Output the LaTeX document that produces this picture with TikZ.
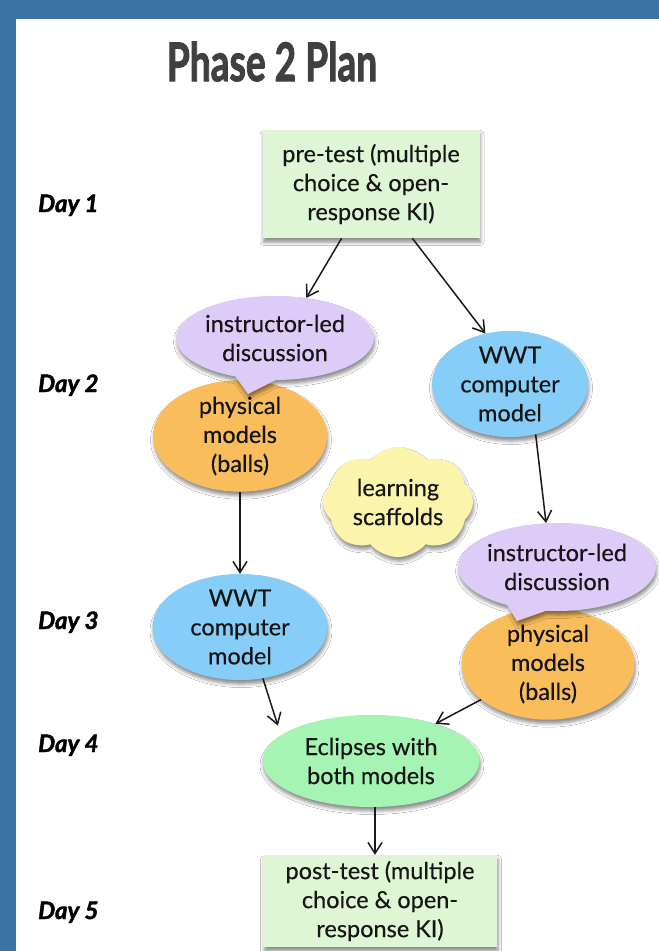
\documentclass[tikz,border=0pt]{standalone}
\usepackage{fontspec}
\setmainfont{Lato}
\newfontfamily\titlefont[FakeBold=2.2]{Lato}
\newfontfamily\dayfont[FakeBold=1.8]{Lato}
\newfontfamily\bodyfont[FakeBold=0.4]{Lato}
\usetikzlibrary{arrows.meta,shapes.geometric,shapes.symbols,shapes.callouts,shadows.blur,calc}
\definecolor{frameblue}{HTML}{3D72A4}
\definecolor{titlegray}{HTML}{404040}
\definecolor{boxgreen}{HTML}{DFF6D5}
\definecolor{lavender}{HTML}{DCCCF7}
\definecolor{orangefill}{HTML}{FABD5C}
\definecolor{skyblue}{HTML}{86CEF8}
\definecolor{yellowfill}{HTML}{FAF5AA}
\definecolor{mintfill}{HTML}{A5F4B3}
\definecolor{inktext}{HTML}{151515}
\tikzset{
  every node/.style={text=inktext},
  txt/.style={font=\bodyfont\fontsize{23.5}{29}\selectfont, align=center, inner sep=0pt},
  shad/.style={blur shadow={shadow xshift=1pt, shadow yshift=-4pt, shadow blur radius=3.5pt, shadow opacity=45}},
  testbox/.style={txt, shad, rectangle, fill=boxgreen},
  oval/.style={txt, shad, ellipse},
  bubble/.style={txt, shad, ellipse callout, callout pointer arc=24, fill=lavender},
  daylabel/.style={anchor=base west, inner sep=0pt, font=\dayfont\fontsize{24}{28}\selectfont\bfseries\itshape, text=black},
  arr/.style={-{Straight Barb[length=11pt,width=14pt]}, line width=1.5pt, draw=black!90}
}
\begin{document}
\begin{tikzpicture}[x=1pt,y=-1pt]
\useasboundingbox (0,0) rectangle (659,951);
\fill[frameblue] (0,0) rectangle (659,951);
\fill[white] (16,19) rectangle (659,951);
\node[anchor=base, inner sep=0pt, text=titlegray, font=\titlefont\fontsize{53}{53}\selectfont\bfseries] (title) at (272,81) {\scalebox{0.7}[1]{Phase 2 Plan}};

\node[daylabel] (d1) at (38,212) {Day 1};
\node[daylabel] (d2) at (38,392) {Day 2};
\node[daylabel] (d3) at (38,629) {Day 3};
\node[daylabel] (d4) at (38,752) {Day 4};
\node[daylabel] (d5) at (38,919) {Day 5};

\node[testbox, minimum width=217pt, minimum height=108pt] (pre) at (371,184) {pre-test (multiple\\choice \& open-\\response KI)};

\node[oval, fill=orangefill, minimum width=174pt, minimum height=98pt] (phys1) at (240,436) {physical\\models\\(balls)};
\node[bubble, minimum width=174pt, minimum height=84pt, callout absolute pointer={(248,394)}] (disc1) at (275,338) {instructor-led\\discussion};

\node[oval, fill=skyblue, minimum width=156pt, minimum height=96pt] (wwt1) at (510,384) {WWT\\computer\\model};

\node[txt, shad, cloud, cloud puffs=8, cloud puff arc=100, aspect=1.35, fill=yellowfill, minimum width=150pt, minimum height=110pt] (cloud) at (398,502) {learning\\scaffolds};

\node[oval, fill=orangefill, minimum width=173pt, minimum height=96pt] (phys2) at (548,664) {physical\\models\\(balls)};
\node[bubble, minimum width=190pt, minimum height=88pt, callout absolute pointer={(517,621)}] (disc2) at (557,567) {instructor-led\\discussion};

\node[oval, fill=skyblue, minimum width=175pt, minimum height=94pt] (wwt2) at (240,627) {WWT\\computer\\model};

\node[oval, fill=mintfill, minimum width=217pt, minimum height=92pt] (ecl) at (371,761) {Eclipses with\\both models};

\node[testbox, minimum width=234pt, minimum height=92pt] (post) at (380,901) {post-test (multiple\\choice \& open-\\response KI)};

\coordinate (a1) at ($(pre.south west)!0.365!(pre.south east)$);
\coordinate (a2) at ($(pre.south west)!0.69!(pre.south east)$);
\coordinate (a7) at ($(ecl.south)+(4,0)$);
\draw[arr] (a1) -- (disc1.52);
\draw[arr] (a2) -- (wwt1.116);
\draw[arr] (phys1.south) -- (wwt2.north);
\draw[arr] (wwt1.-63) -- (disc2.104);
\draw[arr, shorten >=10pt] (wwt2.-66) -- (ecl.164);
\draw[arr] (phys2.208) -- (ecl.30);
\draw[arr] (a7) -- (a7 |- post.north);
\end{tikzpicture}
\end{document}
